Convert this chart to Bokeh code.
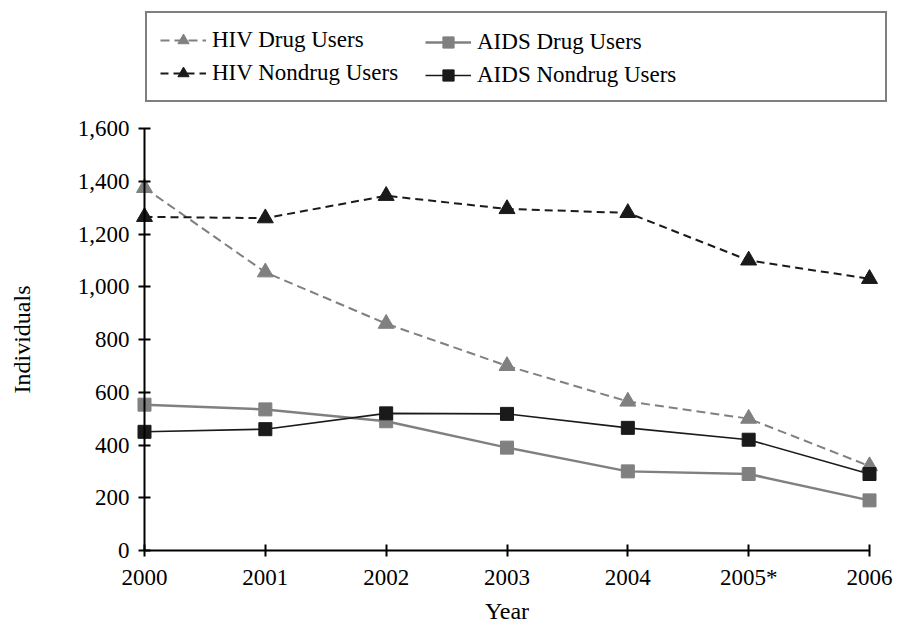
from bokeh.plotting import figure
from bokeh.models import Range1d, FixedTicker, NumeralTickFormatter, Legend, LegendItem
from bokeh.embed import file_html
from bokeh.resources import INLINE

years = [2000, 2001, 2002, 2003, 2004, 2005, 2006]
year_labels = ["2000", "2001", "2002", "2003", "2004", "2005*", "2006"]
hiv_drug = [1375, 1055, 860, 700, 565, 500, 320]
hiv_nondrug = [1265, 1260, 1345, 1295, 1280, 1100, 1030]
aids_drug = [553, 535, 490, 390, 300, 290, 190]
aids_nondrug = [450, 460, 520, 518, 465, 420, 290]
y_ticks = [0, 200, 400, 600, 800, 1000, 1200, 1400, 1600]

FONT = "Liberation Serif"
GRAY = "#808080"
DARK = "#1a1a1a"

W, H = 903, 626
# pixel layout of the axes box inside the canvas
AX_L, AX_R, AX_T, AX_B = 144, 869, 128, 550
xppu = (AX_R - AX_L) / (years[-1] - years[0])
yppu = (AX_B - AX_T) / (y_ticks[-1] - y_ticks[0])
x_rng = Range1d(years[0] - AX_L / xppu, years[-1] + (W - AX_R) / xppu)
y_rng = Range1d(y_ticks[0] - (H - AX_B) / yppu, y_ticks[-1] + AX_T / yppu)

p = figure(width=W, height=H, output_backend="svg", toolbar_location=None,
           x_range=x_rng, y_range=y_rng,
           min_border=0, min_border_left=0, min_border_right=0,
           min_border_top=0, min_border_bottom=0)
p.outline_line_color = None
p.xgrid.visible = False
p.ygrid.visible = False
p.background_fill_color = "white"
p.border_fill_color = "white"

l1 = p.line(years, hiv_drug, line_color=GRAY, line_width=2, line_dash="9 5")
s1 = p.scatter(years, hiv_drug, marker="triangle", size=16, fill_color=GRAY, line_color=GRAY)
l2 = p.line(years, hiv_nondrug, line_color=DARK, line_width=2, line_dash="8 5")
s2 = p.scatter(years, hiv_nondrug, marker="triangle", size=16, fill_color=DARK, line_color=DARK)
l3 = p.line(years, aids_drug, line_color=GRAY, line_width=2.5)
s3 = p.scatter(years, aids_drug, marker="square", size=13, fill_color=GRAY, line_color=GRAY)
l4 = p.line(years, aids_nondrug, line_color=DARK, line_width=1.6)
s4 = p.scatter(years, aids_nondrug, marker="square", size=13, fill_color=DARK, line_color=DARK)

# axes
xa = p.xaxis[0]
xa.ticker = FixedTicker(ticks=years)
xa.major_label_overrides = {y: lab for y, lab in zip(years, year_labels)}
xa.bounds = (years[0], years[-1])
xa.fixed_location = y_ticks[0]
ya = p.yaxis[0]
ya.ticker = FixedTicker(ticks=y_ticks)
ya.formatter = NumeralTickFormatter(format="0,0")
ya.fixed_location = years[0]
ya.bounds = (y_ticks[0], y_ticks[-1])
for ax in (xa, ya):
    ax.axis_line_color = "black"
    ax.axis_line_width = 2
    ax.major_tick_line_color = "black"
    ax.major_tick_line_width = 2
    ax.major_tick_in = 6
    ax.major_tick_out = 6
    ax.minor_tick_line_color = None
    ax.major_label_text_font = FONT
    ax.major_label_text_font_size = "23px"
    ax.major_label_text_color = "black"
    ax.axis_label_text_font = FONT
    ax.axis_label_text_font_size = "24px"
    ax.axis_label_text_font_style = "normal"
    ax.axis_label_text_color = "black"
xa.axis_label = "Year"
xa.major_label_standoff = 8
xa.axis_label_standoff = 5
ya.axis_label = "Individuals"
ya.major_label_standoff = 9
ya.axis_label_standoff = 40

common = dict(glyph_width=46, glyph_height=28, label_height=28, label_standoff=6,
              spacing=5, label_text_font=FONT, label_text_font_size="23px",
              label_text_color="black", margin=0, orientation="vertical")

leg1 = Legend(items=[LegendItem(label="HIV Drug Users", renderers=[l1, s1]),
                     LegendItem(label="HIV Nondrug Users", renderers=[l2, s2])],
              location=(145, H - 102), padding=13, label_width=660,
              border_line_color="black", border_line_width=2,
              background_fill_color="white", background_fill_alpha=1, **common)
leg2 = Legend(items=[LegendItem(label="AIDS Drug Users", renderers=[l3, s3]),
                     LegendItem(label="AIDS Nondrug Users", renderers=[l4, s4])],
              location=(425, H - 89), padding=0,
              border_line_color=None, background_fill_alpha=0, **common)
p.add_layout(leg1, "center")
p.add_layout(leg2, "center")

open("out.html", "w").write(file_html(p, INLINE))
